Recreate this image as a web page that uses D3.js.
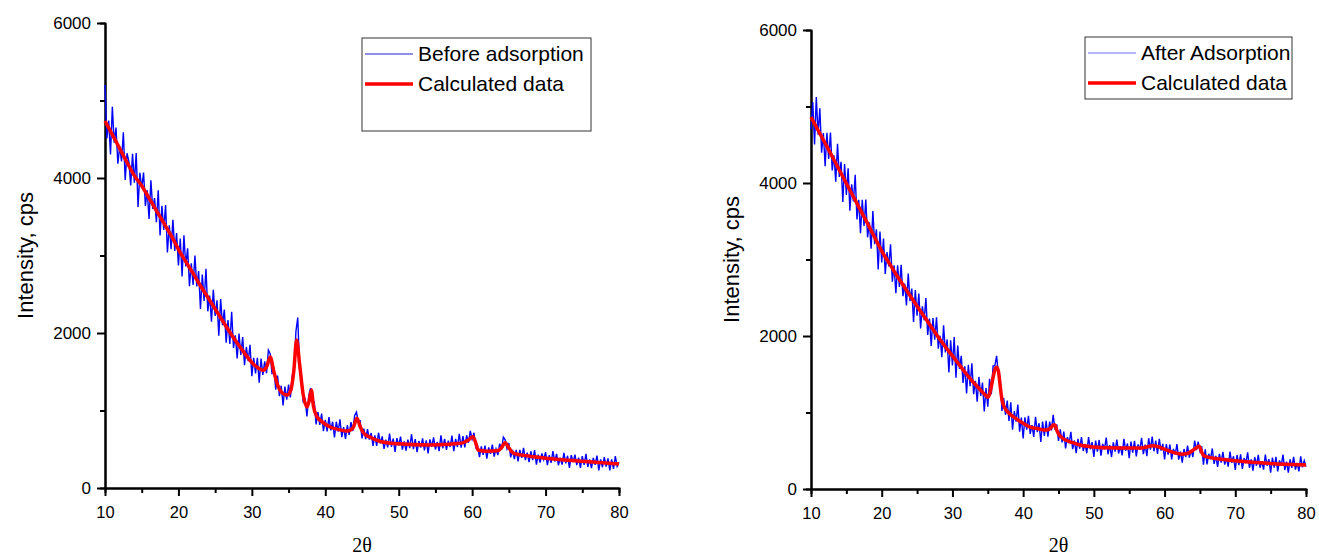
<!DOCTYPE html>
<html>
<head>
<meta charset="utf-8">
<script src="https://cdn.jsdelivr.net/npm/d3@7"></script>
<style>
  body { margin: 0; background: #fff; }
  svg text { font-family: "Liberation Sans", Arial, sans-serif; }
</style>
</head>
<body>
<svg id="chart" width="1319" height="559"></svg>
<script>
// 2theta grid of the measured patterns (10 -> 80, step 0.25)
const twoTheta = d3.range(281).map(i => 10 + i * 0.25)

// measured intensity, before adsorption (cps)
const beforeObs = [
  5200,4510,4740,4305,4920,4455,4650,4185,4410,4215,4590,3975,4320,4215,3905,4313,3940,4323,3625,4068,
  3870,4070,3640,3840,3470,3970,3600,3740,3430,3840,3260,3640,3330,3650,3040,3390,3080,3460,3060,3290,
  2870,3220,2730,3260,2860,3093,2605,2898,2620,3000,2600,2800,2310,2753,2415,2828,2280,2483,2145,2558,
  2220,2423,1965,2438,2100,2303,1875,2168,1860,2275,1808,1971,1672,1992,1717,1949,1586,1820,1636,1848,
  1444,1680,1480,1680,1360,1670,1460,1635,1480,1780,1730,1470,1560,1270,1450,1185,1320,1065,1310,1140,
  1335,1170,1450,1520,2020,2200,1540,1460,1100,1160,925,1190,1290,1100,1110,820,980,815,960,735,
  880,730,915,743,855,652,855,727,885,656,787,633,810,685,850,735,935,980,850,865,
  640,765,630,759,624,710,544,678,543,713,576,667,506,624,525,702,532,637,467,644,
  546,664,495,602,481,624,515,694,501,632,463,606,521,641,484,616,447,627,532,652,
  497,594,475,680,513,634,491,612,529,676,475,634,529,700,522,669,523,679,584,736,
  631,712,520,536,398,538,428,547,379,523,440,561,406,504,425,572,496,656,621,507,
  580,396,491,373,493,344,493,389,517,360,456,333,474,361,490,301,430,328,446,366,
  462,295,425,324,476,342,439,294,391,301,453,319,416,260,423,333,430,296,393,259,
  411,299,440,273,370,258,388,298,417,228,369,268,398,275,383,227,369,247,411,278,
  332
]

// measured intensity, after adsorption (cps)
const afterObs = [
  4700,5058,4505,5123,4630,4978,4395,4653,4220,4656,4313,4659,4165,4361,4018,4514,4080,4276,3753,4249,
  3845,4191,3638,3984,3760,4106,3523,3779,3345,3781,3438,3784,3290,3485,3140,3635,3200,3395,2870,3365,
  2960,3273,2810,3098,2910,3198,2710,2923,2560,2925,2640,2930,2520,2685,2400,2815,2455,2620,2185,2600,
  2265,2556,2098,2389,2205,2496,2013,2229,1870,2236,1953,2244,1835,2004,1723,2141,1785,1955,1525,1945,
  1615,1985,1455,1875,1570,1740,1385,1605,1250,1623,1345,1643,1240,1415,1140,1465,1215,1390,1015,1320,
  1075,1440,1240,1610,1610,1740,1490,1475,1020,1190,970,1155,890,1132,775,1017,880,1105,750,935,
  660,938,775,958,720,835,680,945,745,860,615,880,695,892,685,880,765,970,775,845,
  630,779,610,751,532,679,598,746,521,634,470,655,527,680,497,590,467,679,520,613,
  418,632,487,641,436,590,517,671,454,574,418,609,489,645,464,560,440,656,499,595,
  403,619,475,631,427,583,511,669,456,581,430,664,514,684,493,633,459,655,502,589,
  388,588,448,582,386,523,451,587,383,490,345,523,416,566,409,512,417,632,507,618,
  495,557,319,518,321,460,391,530,328,434,288,460,346,487,319,405,292,488,342,428,
  249,445,311,452,264,405,337,478,278,386,241,415,304,445,278,364,252,449,304,391,
  214,411,278,420,231,373,306,448,248,357,213,388,277,419,253,340,229,427,283,371,
  293
]

// calculated (fitted) profiles
const calcBeforeX = [10,11,12,13,14,15,16,17,18,19,20,21,22,23,24,25,26,27,28,29,30,31,
  31.5,32,32.5,33,33.5,34,34.8,35.3,35.7,36.1,36.5,37,37.5,37.8,38.1,38.4,38.8,39.5,40.6,
  42,43,43.8,44.3,44.8,45.2,46,47.5,50,54,57,
  58.8,59.5,60.1,60.5,60.8,62,63.4,64,64.5,65,65.6,67.9,70,75,80]
const calcBeforeY = [4735,4560,4380,4200,4030,3900,3740,3580,3420,3260,3080,2920,2770,2610,2460,2310,2160,2010,1870,1740,1620,1540,
  1520,1560,1690,1500,1330,1240,1200,1260,1500,1910,1600,1200,1045,1120,1265,1050,930,860,790,
  750,735,780,900,780,710,660,600,570,555,565,
  585,620,660,580,490,475,480,520,585,520,450,410,385,345,310]

const calcAfterX = [10,11,12,13,14,15,16,17,18,19,20,21,22,23,24,25,26,27,28,29,30,31,
  32,33,34,34.75,35,35.25,35.5,35.75,36,36.25,36.5,36.75,37,37.25,37.5,
  38,39,40,41,42,43,43.5,44,44.25,44.5,44.75,45,45.5,46,47,48,
  50,52,55,56.5,57,57.5,58,58.5,59,60,61,62,62.5,63,63.5,64,64.5,64.9,65.25,65.5,66,
  68,70,74,77,80]
const calcAfterY = [4860,4690,4520,4345,4170,3995,3820,3645,3470,3290,3110,2960,2810,2670,2530,2390,2255,2120,1985,1860,1740,1620,
  1500,1390,1290,1220,1200,1240,1340,1460,1560,1590,1540,1350,1170,1090,1045,
  990,920,860,810,790,770,775,810,835,835,770,720,670,640,605,575,
  550,538,535,535,540,550,562,565,555,520,485,460,455,460,475,505,540,560,480,440,420,
  390,370,340,325,315]

const xTicks = [10, 20, 30, 40, 50, 60, 70, 80]
const yTicks = [0, 2000, 4000, 6000]
const legendLabels = [['Before adsorption', 'Calculated data'], ['After Adsorption', 'Calculated data']]

const svg = d3.select('#chart')

function drawPanel(p) {
  const x = d3.scaleLinear().domain([10, 80]).range([p.x0, p.x1])
  const y = d3.scaleLinear().domain([0, 6000]).range([p.y0, p.y1])
  const g = svg.append('g')

  // minor ticks first, the major axis goes over them
  g.append('g')
    .attr('transform', `translate(0,${p.y0})`)
    .call(d3.axisBottom(x).tickValues(d3.range(15, 80, 10)).tickSize(5).tickFormat(''))
  g.append('g')
    .attr('transform', `translate(${p.x0},0)`)
    .call(d3.axisLeft(y).tickValues([1000, 3000, 5000]).tickSize(5).tickFormat(''))

  g.append('g')
    .attr('class', 'xa')
    .attr('transform', `translate(0,${p.y0})`)
    .call(d3.axisBottom(x).tickValues(xTicks).tickSize(8).tickPadding(10)
      .tickSizeOuter(0).tickFormat(d3.format('d')))
  g.append('g')
    .attr('class', 'ya')
    .attr('transform', `translate(${p.x0},0)`)
    .call(d3.axisLeft(y).tickValues(yTicks).tickSize(8).tickPadding(6)
      .tickSizeOuter(0).tickFormat(d3.format('d')))

  g.selectAll('.domain').attr('stroke', '#000').attr('stroke-width', 2)
  g.selectAll('.tick line').attr('stroke', '#000').attr('stroke-width', 2)
  g.selectAll('.tick text').attr('fill', '#000')
    .style('font-family', '"Liberation Sans", Arial, sans-serif')
  g.selectAll('.xa .tick text').style('font-size', '16.5px')
  g.selectAll('.ya .tick text').style('font-size', '17px')

  // observed pattern
  const obsLine = d3.line().x((d, i) => x(twoTheta[i])).y(d => y(d))
  g.append('path')
    .datum(p.obs)
    .attr('fill', 'none')
    .attr('stroke', '#0000ff')
    .attr('stroke-width', 1.4)
    .attr('d', obsLine)

  // calculated profile
  const calcLine = d3.line().curve(d3.curveMonotoneX)
    .x(d => x(d[0])).y(d => y(d[1]))
  g.append('path')
    .datum(p.calcX.map((v, i) => [v, p.calcY[i]]))
    .attr('fill', 'none')
    .attr('stroke', '#ff0000')
    .attr('stroke-width', 3.5)
    .attr('stroke-linejoin', 'round')
    .attr('d', calcLine)

  // axis titles
  g.append('text')
    .attr('transform', `translate(${p.x0 - 72},${(p.y0 + p.y1) / 2}) rotate(-90)`)
    .attr('text-anchor', 'middle')
    .style('font-size', '22px')
    .text('Intensity, cps')
  g.append('text')
    .attr('x', (p.x0 + p.x1) / 2)
    .attr('y', 552)
    .attr('text-anchor', 'middle')
    .style('font-family', '"Liberation Serif", "Times New Roman", serif')
    .style('font-size', '20px')
    .text('2θ')

  // legend
  const L = p.legend
  g.append('rect')
    .attr('x', L.x).attr('y', L.y).attr('width', L.w).attr('height', L.h)
    .attr('fill', '#fff').attr('stroke', '#333').attr('stroke-width', 1)
  const styles = [{ c: p.legendBlue, w: 1.2 }, { c: '#ff0000', w: 3.5 }]
  p.labels.forEach((lab, i) => {
    const ly = L.y + 16 + i * 30
    g.append('line')
      .attr('x1', L.x + 3).attr('x2', L.x + 51)
      .attr('y1', ly).attr('y2', ly)
      .attr('stroke', styles[i].c).attr('stroke-width', styles[i].w)
    g.append('text')
      .attr('x', L.x + 56).attr('y', ly + 7)
      .style('font-size', '21px')
      .text(lab)
  })
}

drawPanel({
  x0: 105, x1: 619, y0: 488, y1: 23,
  obs: beforeObs, calcX: calcBeforeX, calcY: calcBeforeY,
  labels: legendLabels[0], legendBlue: '#2020d0',
  legend: { x: 362, y: 38, w: 229, h: 93 }
})

drawPanel({
  x0: 811, x1: 1306, y0: 489, y1: 30,
  obs: afterObs, calcX: calcAfterX, calcY: calcAfterY,
  labels: legendLabels[1], legendBlue: '#7070ff',
  legend: { x: 1085, y: 37, w: 207, h: 62 }
})
</script>
</body>
</html>
